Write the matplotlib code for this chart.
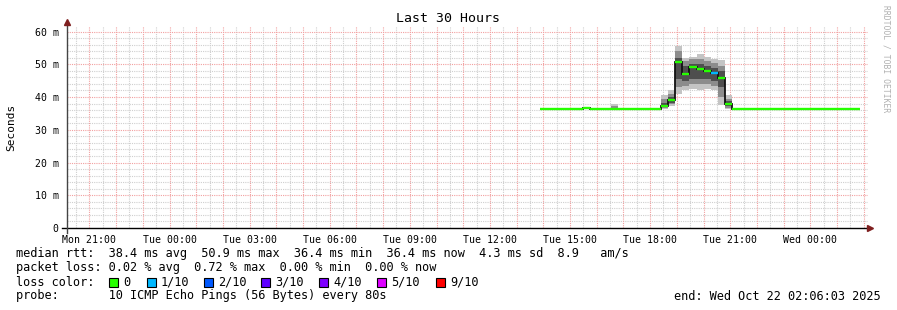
import numpy as np
import matplotlib
matplotlib.use('Agg')
import matplotlib.pyplot as plt

plt.rcParams['font.family'] = 'DejaVu Sans Mono'

# time axis in hours since Mon 00:00
x_start, x_end = 20.16, 50.16
tick_hours = [21, 24, 27, 30, 33, 36, 39, 42, 45, 48]
tick_labels = ['Mon 21:00', 'Tue 00:00', 'Tue 03:00', 'Tue 06:00', 'Tue 09:00',
               'Tue 12:00', 'Tue 15:00', 'Tue 18:00', 'Tue 21:00', 'Wed 00:00']
y_ticks = [0, 10, 20, 30, 40, 50, 60]
y_labels = ['0', '10 m', '20 m', '30 m', '40 m', '50 m', '60 m']

# step edges (hours) and median rtt (ms) per step
edges = [37.87, 39.47, 39.75, 40.52, 40.81, 42.40, 42.66, 42.93, 43.20, 43.47,
         43.74, 44.02, 44.28, 44.54, 44.80, 45.08, 49.86]
median = [36.4, 36.8, 36.4, 36.4, 36.4, 37.2, 39.0, 50.6, 47.0, 49.1,
          48.6, 48.0, 47.4, 45.9, 37.8, 36.4]
loss = [0, 0, 0, 0, 0, 0, 0, 0, 0, 0, 0, 0, 1, 0, 0, 0]
nan = np.nan
# smoke bands: outer / middle / inner
outer_lo = [nan, nan, nan, 36.4, nan, 36.4, 37.2, 41.0, 42.0, 42.6, 42.0, 42.6, 42.0, 37.5, 36.3, nan]
outer_hi = [nan, nan, nan, 37.8, nan, 40.5, 42.0, 55.7, 52.0, 52.3, 53.0, 52.3, 51.5, 51.2, 40.5, nan]
mid_lo = [nan, nan, nan, 36.4, nan, 36.8, 37.8, 43.0, 43.5, 44.0, 44.0, 44.0, 43.5, 40.0, 36.8, nan]
mid_hi = [nan, nan, nan, 37.2, nan, 39.5, 41.0, 54.0, 51.0, 51.5, 51.5, 51.0, 50.5, 49.5, 39.5, nan]
in_lo = [nan, nan, nan, nan, nan, 37.0, 38.3, 45.5, 45.0, 45.5, 45.5, 45.5, 45.0, 43.0, 37.2, nan]
in_hi = [nan, nan, nan, nan, nan, 38.3, 40.0, 52.0, 49.5, 50.0, 50.0, 49.5, 49.0, 48.0, 38.7, nan]

loss_colors = ['#26ff00', '#00b8ff', '#0059ff', '#5e00ff', '#7e00ff', '#dd00ff', '#ff0000']
loss_names = ['0', '1/10', '2/10', '3/10', '4/10', '5/10', '9/10']
loss_box_x = [109, 147, 204, 261, 319, 377, 436]

W, H = 897, 310
fig = plt.figure(figsize=(W / 100, H / 100), dpi=100)
ax = fig.add_axes([67 / W, 82 / H, 801 / W, 202 / H])
ax.set_xlim(x_start, x_end)
ax.set_ylim(0, 61.7)
for s in ax.spines.values():
    s.set_visible(False)

# grid
dot = (0, (1, 1))
for xv in np.arange(20.5, 50.2, 0.5):
    if abs(xv - round(xv)) > 0.01:
        ax.axvline(xv, color='#cfcfcf', lw=0.8, ls=dot, zorder=0)
for yv in np.arange(2, 61, 2):
    if yv % 10:
        ax.axhline(yv, color='#cfcfcf', lw=0.8, ls=dot, zorder=0)
for xv in np.arange(21, 51, 1):
    ax.axvline(xv, color='#f2a0a0', lw=0.8, ls=dot, zorder=0.5)
for yv in y_ticks[1:]:
    ax.axhline(yv, color='#f2a0a0', lw=0.8, ls=dot, zorder=0.5)

e = np.array(edges)
widths = np.diff(e)
lefts = e[:-1]
for lo, hi, c in [(outer_lo, outer_hi, '#c4c4c4'), (mid_lo, mid_hi, '#8c8c8c'), (in_lo, in_hi, '#4e4e4e')]:
    lo = np.array(lo); hi = np.array(hi)
    ax.bar(lefts, hi - lo, width=widths, bottom=lo, align='edge', color=c, lw=0, zorder=2)

ax.stairs(median, edges, baseline=None, color='#111111', lw=1.3, zorder=3)
ax.hlines(median, lefts, e[1:], colors=[loss_colors[l] for l in loss], lw=1.7, zorder=4)

ax.set_xticks(tick_hours)
ax.set_xticklabels(tick_labels)
ax.set_yticks(y_ticks)
ax.set_yticklabels(y_labels)
ax.tick_params(axis='x', length=0, pad=5, labelsize=7.1)
ax.tick_params(axis='y', length=0, pad=6, labelsize=7.1)

# axes lines and arrows
ax.plot([-5 / 801, 1.0], [0, 0], transform=ax.transAxes, color='black', lw=1, clip_on=False, zorder=5)
ax.plot([0, 0], [-5 / 202, 1.02], transform=ax.transAxes, color='#444444', lw=1, clip_on=False, zorder=5)
ax.plot([0], [1.02], marker='^', ms=4.5, color='#7f1f1f', transform=ax.transAxes, clip_on=False, zorder=6)
ax.plot([1.003], [0], marker='>', ms=4.5, color='#7f1f1f', transform=ax.transAxes, clip_on=False, zorder=6)

fig.text(448 / W, 1 - 19 / H, 'Last 30 Hours', ha='center', va='center', fontsize=9.5)
fig.text(11 / W, 1 - 127 / H, 'Seconds', ha='center', va='center', rotation=90, fontsize=8)
fig.text(886 / W, 1 - 5 / H, 'RRDTOOL / TOBI OETIKER', ha='center', va='top', rotation=270,
         fontsize=5.8, color='#b0b0b0')

fs = 8.55
fig.text(16 / W, 1 - 254 / H, 'median rtt:  38.4 ms avg  50.9 ms max  36.4 ms min  36.4 ms now  4.3 ms sd  8.9   am/s',
         va='center', fontsize=fs)
fig.text(16 / W, 1 - 268 / H, 'packet loss: 0.02 % avg  0.72 % max  0.00 % min  0.00 % now',
         va='center', fontsize=fs)
fig.text(16 / W, 1 - 282 / H, 'loss color:', va='center', fontsize=fs)
for bx, c, name in zip(loss_box_x, loss_colors, loss_names):
    fig.patches.append(plt.Rectangle((bx / W, 1 - 287 / H), 9 / W, 9 / H, transform=fig.transFigure,
                                     facecolor=c, edgecolor='black', lw=0.8))
    fig.text((bx + 14) / W, 1 - 282 / H, name, va='center', fontsize=fs)
fig.text(16 / W, 1 - 296 / H, 'probe:       10 ICMP Echo Pings (56 Bytes) every 80s', va='center', fontsize=fs)
fig.text(881 / W, 1 - 296 / H, 'end: Wed Oct 22 02:06:03 2025', ha='right', va='center', fontsize=fs)

fig.savefig('out.png', dpi=100, facecolor='white')
